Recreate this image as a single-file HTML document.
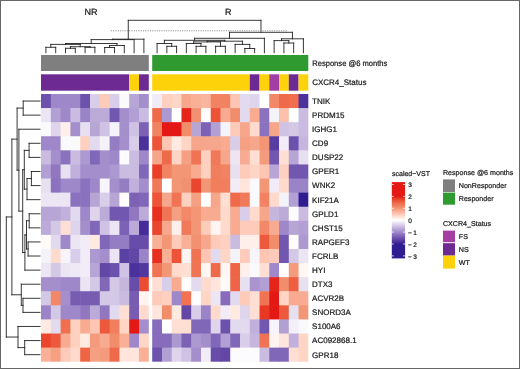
<!DOCTYPE html>
<html><head><meta charset="utf-8"><style>
html,body{margin:0;padding:0;background:#fff;}
#w{position:relative;width:520px;height:369px;overflow:hidden;background:#fff;}
#w svg{position:absolute;left:0;top:0;will-change:transform;filter:blur(0.3px);}
#bd{position:absolute;left:0;top:0;width:520px;height:369px;box-sizing:border-box;border:1px solid #666;}
text{font-family:"Liberation Sans",sans-serif;text-rendering:geometricPrecision;}
</style></head><body><div id="w">
<svg width="520" height="369" viewBox="0 0 520 369">
<defs><linearGradient id="cb" x1="0" y1="184.5" x2="0" y2="255.99999999999997" gradientUnits="userSpaceOnUse"><stop offset="0.0000" stop-color="#e41814"/><stop offset="0.0417" stop-color="#e41814"/><stop offset="0.0833" stop-color="#e41814"/><stop offset="0.1250" stop-color="#e41814"/><stop offset="0.1667" stop-color="#e41814"/><stop offset="0.2083" stop-color="#ea462d"/><stop offset="0.2500" stop-color="#ee6445"/><stop offset="0.2917" stop-color="#f17e5d"/><stop offset="0.3333" stop-color="#f29676"/><stop offset="0.3750" stop-color="#f9b097"/><stop offset="0.4167" stop-color="#fecab9"/><stop offset="0.4583" stop-color="#ffe5db"/><stop offset="0.5000" stop-color="#ffffff"/><stop offset="0.5417" stop-color="#e7e0f1"/><stop offset="0.5833" stop-color="#cfc2e4"/><stop offset="0.6250" stop-color="#b7a5d6"/><stop offset="0.6667" stop-color="#9f88c9"/><stop offset="0.7083" stop-color="#866cbb"/><stop offset="0.7500" stop-color="#6c51ad"/><stop offset="0.7917" stop-color="#51379f"/><stop offset="0.8333" stop-color="#301c91"/><stop offset="0.8750" stop-color="#301c91"/><stop offset="0.9167" stop-color="#301c91"/><stop offset="0.9583" stop-color="#301c91"/><stop offset="1.0000" stop-color="#301c91"/></linearGradient></defs><rect x="41.00" y="94.00" width="10.40" height="14.69" fill="#6c51ad"/><rect x="50.80" y="94.00" width="10.40" height="14.69" fill="#9f88c9"/><rect x="60.60" y="94.00" width="10.40" height="14.69" fill="#9f88c9"/><rect x="70.40" y="94.00" width="10.40" height="14.69" fill="#9f88c9"/><rect x="80.20" y="94.00" width="10.40" height="14.69" fill="#6c51ad"/><rect x="90.00" y="94.00" width="10.40" height="14.69" fill="#d9cee9"/><rect x="99.80" y="94.00" width="10.40" height="14.69" fill="#fecab9"/><rect x="109.60" y="94.00" width="10.40" height="14.69" fill="#d9cee9"/><rect x="119.40" y="94.00" width="10.40" height="14.69" fill="#faf9fc"/><rect x="129.20" y="94.00" width="10.40" height="14.69" fill="#b7a5d6"/><rect x="139.00" y="94.00" width="9.80" height="14.69" fill="#a48ecb"/><rect x="152.20" y="94.00" width="10.36" height="14.69" fill="#f1ecf7"/><rect x="161.96" y="94.00" width="10.36" height="14.69" fill="#fed0c0"/><rect x="171.71" y="94.00" width="10.36" height="14.69" fill="#ffd5c6"/><rect x="181.47" y="94.00" width="10.36" height="14.69" fill="#f6a68a"/><rect x="191.22" y="94.00" width="10.36" height="14.69" fill="#f9b097"/><rect x="200.98" y="94.00" width="10.36" height="14.69" fill="#fab59e"/><rect x="210.74" y="94.00" width="10.36" height="14.69" fill="#f18362"/><rect x="220.49" y="94.00" width="10.36" height="14.69" fill="#f18362"/><rect x="230.25" y="94.00" width="10.36" height="14.69" fill="#fdc5b2"/><rect x="240.01" y="94.00" width="10.36" height="14.69" fill="#e2daef"/><rect x="249.76" y="94.00" width="10.36" height="14.69" fill="#ded4ec"/><rect x="259.52" y="94.00" width="10.36" height="14.69" fill="#fffdfc"/><rect x="269.27" y="94.00" width="10.36" height="14.69" fill="#f28867"/><rect x="279.03" y="94.00" width="10.36" height="14.69" fill="#ef6a4a"/><rect x="288.79" y="94.00" width="10.36" height="14.69" fill="#ef6f4f"/><rect x="298.54" y="94.00" width="9.76" height="14.69" fill="#4b319c"/><rect x="41.00" y="108.09" width="10.40" height="14.69" fill="#ece6f4"/><rect x="50.80" y="108.09" width="10.40" height="14.69" fill="#b29fd4"/><rect x="60.60" y="108.09" width="10.40" height="14.69" fill="#9f88c9"/><rect x="70.40" y="108.09" width="10.40" height="14.69" fill="#cabce1"/><rect x="80.20" y="108.09" width="10.40" height="14.69" fill="#9a83c6"/><rect x="90.00" y="108.09" width="10.40" height="14.69" fill="#bcabd9"/><rect x="99.80" y="108.09" width="10.40" height="14.69" fill="#bcabd9"/><rect x="109.60" y="108.09" width="10.40" height="14.69" fill="#7257b0"/><rect x="119.40" y="108.09" width="10.40" height="14.69" fill="#a48ecb"/><rect x="129.20" y="108.09" width="10.40" height="14.69" fill="#b29fd4"/><rect x="139.00" y="108.09" width="9.80" height="14.69" fill="#cabce1"/><rect x="152.20" y="108.09" width="10.36" height="14.69" fill="#ef6a4a"/><rect x="161.96" y="108.09" width="10.36" height="14.69" fill="#ad99d1"/><rect x="171.71" y="108.09" width="10.36" height="14.69" fill="#ffffff"/><rect x="181.47" y="108.09" width="10.36" height="14.69" fill="#e52519"/><rect x="191.22" y="108.09" width="10.36" height="14.69" fill="#f29171"/><rect x="200.98" y="108.09" width="10.36" height="14.69" fill="#fffcfb"/><rect x="210.74" y="108.09" width="10.36" height="14.69" fill="#ec5337"/><rect x="220.49" y="108.09" width="10.36" height="14.69" fill="#f8ab90"/><rect x="230.25" y="108.09" width="10.36" height="14.69" fill="#f28d6c"/><rect x="240.01" y="108.09" width="10.36" height="14.69" fill="#e2daef"/><rect x="249.76" y="108.09" width="10.36" height="14.69" fill="#f8ab90"/><rect x="259.52" y="108.09" width="10.36" height="14.69" fill="#8b72be"/><rect x="269.27" y="108.09" width="10.36" height="14.69" fill="#f5f3fa"/><rect x="279.03" y="108.09" width="10.36" height="14.69" fill="#fcc0ab"/><rect x="288.79" y="108.09" width="10.36" height="14.69" fill="#ffffff"/><rect x="298.54" y="108.09" width="9.76" height="14.69" fill="#cabce1"/><rect x="41.00" y="122.18" width="10.40" height="14.69" fill="#faf9fc"/><rect x="50.80" y="122.18" width="10.40" height="14.69" fill="#ded4ec"/><rect x="60.60" y="122.18" width="10.40" height="14.69" fill="#ffefea"/><rect x="70.40" y="122.18" width="10.40" height="14.69" fill="#a48ecb"/><rect x="80.20" y="122.18" width="10.40" height="14.69" fill="#e7e0f1"/><rect x="90.00" y="122.18" width="10.40" height="14.69" fill="#b7a5d6"/><rect x="99.80" y="122.18" width="10.40" height="14.69" fill="#cfc2e4"/><rect x="109.60" y="122.18" width="10.40" height="14.69" fill="#f5f3fa"/><rect x="119.40" y="122.18" width="10.40" height="14.69" fill="#a48ecb"/><rect x="129.20" y="122.18" width="10.40" height="14.69" fill="#cfc2e4"/><rect x="139.00" y="122.18" width="9.80" height="14.69" fill="#7c61b5"/><rect x="152.20" y="122.18" width="10.36" height="14.69" fill="#f18362"/><rect x="161.96" y="122.18" width="10.36" height="14.69" fill="#e41814"/><rect x="171.71" y="122.18" width="10.36" height="14.69" fill="#e41814"/><rect x="181.47" y="122.18" width="10.36" height="14.69" fill="#f28d6c"/><rect x="191.22" y="122.18" width="10.36" height="14.69" fill="#b7a5d6"/><rect x="200.98" y="122.18" width="10.36" height="14.69" fill="#7c61b5"/><rect x="210.74" y="122.18" width="10.36" height="14.69" fill="#b29fd4"/><rect x="220.49" y="122.18" width="10.36" height="14.69" fill="#f5f3fa"/><rect x="230.25" y="122.18" width="10.36" height="14.69" fill="#fecab9"/><rect x="240.01" y="122.18" width="10.36" height="14.69" fill="#f6a68a"/><rect x="249.76" y="122.18" width="10.36" height="14.69" fill="#ffdacd"/><rect x="259.52" y="122.18" width="10.36" height="14.69" fill="#8b72be"/><rect x="269.27" y="122.18" width="10.36" height="14.69" fill="#f6a68a"/><rect x="279.03" y="122.18" width="10.36" height="14.69" fill="#cfc2e4"/><rect x="288.79" y="122.18" width="10.36" height="14.69" fill="#d4c8e7"/><rect x="298.54" y="122.18" width="9.76" height="14.69" fill="#cabce1"/><rect x="41.00" y="136.27" width="10.40" height="14.69" fill="#9f88c9"/><rect x="50.80" y="136.27" width="10.40" height="14.69" fill="#9f88c9"/><rect x="60.60" y="136.27" width="10.40" height="14.69" fill="#faf9fc"/><rect x="70.40" y="136.27" width="10.40" height="14.69" fill="#faf9fc"/><rect x="80.20" y="136.27" width="10.40" height="14.69" fill="#fed0c0"/><rect x="90.00" y="136.27" width="10.40" height="14.69" fill="#e2daef"/><rect x="99.80" y="136.27" width="10.40" height="14.69" fill="#f5f3fa"/><rect x="109.60" y="136.27" width="10.40" height="14.69" fill="#957dc3"/><rect x="119.40" y="136.27" width="10.40" height="14.69" fill="#a48ecb"/><rect x="129.20" y="136.27" width="10.40" height="14.69" fill="#d9cee9"/><rect x="139.00" y="136.27" width="9.80" height="14.69" fill="#4b319c"/><rect x="152.20" y="136.27" width="10.36" height="14.69" fill="#ec5337"/><rect x="161.96" y="136.27" width="10.36" height="14.69" fill="#fdc5b2"/><rect x="171.71" y="136.27" width="10.36" height="14.69" fill="#ffeae2"/><rect x="181.47" y="136.27" width="10.36" height="14.69" fill="#ffd5c6"/><rect x="191.22" y="136.27" width="10.36" height="14.69" fill="#f6a68a"/><rect x="200.98" y="136.27" width="10.36" height="14.69" fill="#f6a68a"/><rect x="210.74" y="136.27" width="10.36" height="14.69" fill="#f6a68a"/><rect x="220.49" y="136.27" width="10.36" height="14.69" fill="#f8ab90"/><rect x="230.25" y="136.27" width="10.36" height="14.69" fill="#d9cee9"/><rect x="240.01" y="136.27" width="10.36" height="14.69" fill="#f5a083"/><rect x="249.76" y="136.27" width="10.36" height="14.69" fill="#f6a68a"/><rect x="259.52" y="136.27" width="10.36" height="14.69" fill="#f29676"/><rect x="269.27" y="136.27" width="10.36" height="14.69" fill="#573ca2"/><rect x="279.03" y="136.27" width="10.36" height="14.69" fill="#f1ecf7"/><rect x="288.79" y="136.27" width="10.36" height="14.69" fill="#6c51ad"/><rect x="298.54" y="136.27" width="9.76" height="14.69" fill="#c6b6de"/><rect x="41.00" y="150.36" width="10.40" height="14.69" fill="#cabce1"/><rect x="50.80" y="150.36" width="10.40" height="14.69" fill="#a48ecb"/><rect x="60.60" y="150.36" width="10.40" height="14.69" fill="#8b72be"/><rect x="70.40" y="150.36" width="10.40" height="14.69" fill="#cabce1"/><rect x="80.20" y="150.36" width="10.40" height="14.69" fill="#ad99d1"/><rect x="90.00" y="150.36" width="10.40" height="14.69" fill="#8167b8"/><rect x="99.80" y="150.36" width="10.40" height="14.69" fill="#a48ecb"/><rect x="109.60" y="150.36" width="10.40" height="14.69" fill="#9f88c9"/><rect x="119.40" y="150.36" width="10.40" height="14.69" fill="#fcfbfd"/><rect x="129.20" y="150.36" width="10.40" height="14.69" fill="#cabce1"/><rect x="139.00" y="150.36" width="9.80" height="14.69" fill="#9f88c9"/><rect x="152.20" y="150.36" width="10.36" height="14.69" fill="#f6a68a"/><rect x="161.96" y="150.36" width="10.36" height="14.69" fill="#ef6a4a"/><rect x="171.71" y="150.36" width="10.36" height="14.69" fill="#ffd5c6"/><rect x="181.47" y="150.36" width="10.36" height="14.69" fill="#f5a083"/><rect x="191.22" y="150.36" width="10.36" height="14.69" fill="#f07454"/><rect x="200.98" y="150.36" width="10.36" height="14.69" fill="#fed0c0"/><rect x="210.74" y="150.36" width="10.36" height="14.69" fill="#f07959"/><rect x="220.49" y="150.36" width="10.36" height="14.69" fill="#f6a68a"/><rect x="230.25" y="150.36" width="10.36" height="14.69" fill="#ece6f4"/><rect x="240.01" y="150.36" width="10.36" height="14.69" fill="#f8ab90"/><rect x="249.76" y="150.36" width="10.36" height="14.69" fill="#ffdfd4"/><rect x="259.52" y="150.36" width="10.36" height="14.69" fill="#f49b7d"/><rect x="269.27" y="150.36" width="10.36" height="14.69" fill="#7257b0"/><rect x="279.03" y="150.36" width="10.36" height="14.69" fill="#ffdfd4"/><rect x="288.79" y="150.36" width="10.36" height="14.69" fill="#b7a5d6"/><rect x="298.54" y="150.36" width="9.76" height="14.69" fill="#e7e0f1"/><rect x="41.00" y="164.45" width="10.40" height="14.69" fill="#b29fd4"/><rect x="50.80" y="164.45" width="10.40" height="14.69" fill="#9077c0"/><rect x="60.60" y="164.45" width="10.40" height="14.69" fill="#e7e0f1"/><rect x="70.40" y="164.45" width="10.40" height="14.69" fill="#c1b0dc"/><rect x="80.20" y="164.45" width="10.40" height="14.69" fill="#a48ecb"/><rect x="90.00" y="164.45" width="10.40" height="14.69" fill="#a48ecb"/><rect x="99.80" y="164.45" width="10.40" height="14.69" fill="#a48ecb"/><rect x="109.60" y="164.45" width="10.40" height="14.69" fill="#ad99d1"/><rect x="119.40" y="164.45" width="10.40" height="14.69" fill="#cabce1"/><rect x="129.20" y="164.45" width="10.40" height="14.69" fill="#cabce1"/><rect x="139.00" y="164.45" width="9.80" height="14.69" fill="#8167b8"/><rect x="152.20" y="164.45" width="10.36" height="14.69" fill="#e93f28"/><rect x="161.96" y="164.45" width="10.36" height="14.69" fill="#f18362"/><rect x="171.71" y="164.45" width="10.36" height="14.69" fill="#f29676"/><rect x="181.47" y="164.45" width="10.36" height="14.69" fill="#f29676"/><rect x="191.22" y="164.45" width="10.36" height="14.69" fill="#f8ab90"/><rect x="200.98" y="164.45" width="10.36" height="14.69" fill="#fed0c0"/><rect x="210.74" y="164.45" width="10.36" height="14.69" fill="#f17e5d"/><rect x="220.49" y="164.45" width="10.36" height="14.69" fill="#f18362"/><rect x="230.25" y="164.45" width="10.36" height="14.69" fill="#e7e0f1"/><rect x="240.01" y="164.45" width="10.36" height="14.69" fill="#fecab9"/><rect x="249.76" y="164.45" width="10.36" height="14.69" fill="#ffd5c6"/><rect x="259.52" y="164.45" width="10.36" height="14.69" fill="#fdc5b2"/><rect x="269.27" y="164.45" width="10.36" height="14.69" fill="#b7a5d6"/><rect x="279.03" y="164.45" width="10.36" height="14.69" fill="#fed0c0"/><rect x="288.79" y="164.45" width="10.36" height="14.69" fill="#7257b0"/><rect x="298.54" y="164.45" width="9.76" height="14.69" fill="#7257b0"/><rect x="41.00" y="178.54" width="10.40" height="14.69" fill="#e7e0f1"/><rect x="50.80" y="178.54" width="10.40" height="14.69" fill="#8b72be"/><rect x="60.60" y="178.54" width="10.40" height="14.69" fill="#9f88c9"/><rect x="70.40" y="178.54" width="10.40" height="14.69" fill="#9f88c9"/><rect x="80.20" y="178.54" width="10.40" height="14.69" fill="#8b72be"/><rect x="90.00" y="178.54" width="10.40" height="14.69" fill="#9f88c9"/><rect x="99.80" y="178.54" width="10.40" height="14.69" fill="#f7f5fb"/><rect x="109.60" y="178.54" width="10.40" height="14.69" fill="#a48ecb"/><rect x="119.40" y="178.54" width="10.40" height="14.69" fill="#957dc3"/><rect x="129.20" y="178.54" width="10.40" height="14.69" fill="#c1b0dc"/><rect x="139.00" y="178.54" width="9.80" height="14.69" fill="#a48ecb"/><rect x="152.20" y="178.54" width="10.36" height="14.69" fill="#f07959"/><rect x="161.96" y="178.54" width="10.36" height="14.69" fill="#ffffff"/><rect x="171.71" y="178.54" width="10.36" height="14.69" fill="#f29676"/><rect x="181.47" y="178.54" width="10.36" height="14.69" fill="#f29171"/><rect x="191.22" y="178.54" width="10.36" height="14.69" fill="#ea462d"/><rect x="200.98" y="178.54" width="10.36" height="14.69" fill="#f29676"/><rect x="210.74" y="178.54" width="10.36" height="14.69" fill="#f17e5d"/><rect x="220.49" y="178.54" width="10.36" height="14.69" fill="#f17e5d"/><rect x="230.25" y="178.54" width="10.36" height="14.69" fill="#f1ecf7"/><rect x="240.01" y="178.54" width="10.36" height="14.69" fill="#ffe5db"/><rect x="249.76" y="178.54" width="10.36" height="14.69" fill="#faf9fc"/><rect x="259.52" y="178.54" width="10.36" height="14.69" fill="#f29676"/><rect x="269.27" y="178.54" width="10.36" height="14.69" fill="#f1ecf7"/><rect x="279.03" y="178.54" width="10.36" height="14.69" fill="#ffdacd"/><rect x="288.79" y="178.54" width="10.36" height="14.69" fill="#9a83c6"/><rect x="298.54" y="178.54" width="9.76" height="14.69" fill="#9a83c6"/><rect x="41.00" y="192.63" width="10.40" height="14.69" fill="#ece6f4"/><rect x="50.80" y="192.63" width="10.40" height="14.69" fill="#ece6f4"/><rect x="60.60" y="192.63" width="10.40" height="14.69" fill="#ece6f4"/><rect x="70.40" y="192.63" width="10.40" height="14.69" fill="#8b72be"/><rect x="80.20" y="192.63" width="10.40" height="14.69" fill="#8b72be"/><rect x="90.00" y="192.63" width="10.40" height="14.69" fill="#b7a5d6"/><rect x="99.80" y="192.63" width="10.40" height="14.69" fill="#d9cee9"/><rect x="109.60" y="192.63" width="10.40" height="14.69" fill="#b7a5d6"/><rect x="119.40" y="192.63" width="10.40" height="14.69" fill="#fffdfc"/><rect x="129.20" y="192.63" width="10.40" height="14.69" fill="#7c61b5"/><rect x="139.00" y="192.63" width="9.80" height="14.69" fill="#8167b8"/><rect x="152.20" y="192.63" width="10.36" height="14.69" fill="#ec5337"/><rect x="161.96" y="192.63" width="10.36" height="14.69" fill="#f6a68a"/><rect x="171.71" y="192.63" width="10.36" height="14.69" fill="#f07454"/><rect x="181.47" y="192.63" width="10.36" height="14.69" fill="#fed0c0"/><rect x="191.22" y="192.63" width="10.36" height="14.69" fill="#f5a083"/><rect x="200.98" y="192.63" width="10.36" height="14.69" fill="#ffffff"/><rect x="210.74" y="192.63" width="10.36" height="14.69" fill="#f6a68a"/><rect x="220.49" y="192.63" width="10.36" height="14.69" fill="#ffdfd4"/><rect x="230.25" y="192.63" width="10.36" height="14.69" fill="#ef6a4a"/><rect x="240.01" y="192.63" width="10.36" height="14.69" fill="#f07959"/><rect x="249.76" y="192.63" width="10.36" height="14.69" fill="#faf9fc"/><rect x="259.52" y="192.63" width="10.36" height="14.69" fill="#f18362"/><rect x="269.27" y="192.63" width="10.36" height="14.69" fill="#ffdacd"/><rect x="279.03" y="192.63" width="10.36" height="14.69" fill="#f5f3fa"/><rect x="288.79" y="192.63" width="10.36" height="14.69" fill="#b29fd4"/><rect x="298.54" y="192.63" width="9.76" height="14.69" fill="#301c91"/><rect x="41.00" y="206.72" width="10.40" height="14.69" fill="#b7a5d6"/><rect x="50.80" y="206.72" width="10.40" height="14.69" fill="#b7a5d6"/><rect x="60.60" y="206.72" width="10.40" height="14.69" fill="#c1b0dc"/><rect x="70.40" y="206.72" width="10.40" height="14.69" fill="#e2daef"/><rect x="80.20" y="206.72" width="10.40" height="14.69" fill="#9f88c9"/><rect x="90.00" y="206.72" width="10.40" height="14.69" fill="#ded4ec"/><rect x="99.80" y="206.72" width="10.40" height="14.69" fill="#bcabd9"/><rect x="109.60" y="206.72" width="10.40" height="14.69" fill="#7257b0"/><rect x="119.40" y="206.72" width="10.40" height="14.69" fill="#7257b0"/><rect x="129.20" y="206.72" width="10.40" height="14.69" fill="#9077c0"/><rect x="139.00" y="206.72" width="9.80" height="14.69" fill="#bcabd9"/><rect x="152.20" y="206.72" width="10.36" height="14.69" fill="#e62f1f"/><rect x="161.96" y="206.72" width="10.36" height="14.69" fill="#f07454"/><rect x="171.71" y="206.72" width="10.36" height="14.69" fill="#f5a083"/><rect x="181.47" y="206.72" width="10.36" height="14.69" fill="#f28867"/><rect x="191.22" y="206.72" width="10.36" height="14.69" fill="#f29676"/><rect x="200.98" y="206.72" width="10.36" height="14.69" fill="#f8ab90"/><rect x="210.74" y="206.72" width="10.36" height="14.69" fill="#f8ab90"/><rect x="220.49" y="206.72" width="10.36" height="14.69" fill="#ffdacd"/><rect x="230.25" y="206.72" width="10.36" height="14.69" fill="#f8ab90"/><rect x="240.01" y="206.72" width="10.36" height="14.69" fill="#d9cee9"/><rect x="249.76" y="206.72" width="10.36" height="14.69" fill="#ffdacd"/><rect x="259.52" y="206.72" width="10.36" height="14.69" fill="#f6a68a"/><rect x="269.27" y="206.72" width="10.36" height="14.69" fill="#c6b6de"/><rect x="279.03" y="206.72" width="10.36" height="14.69" fill="#bcabd9"/><rect x="288.79" y="206.72" width="10.36" height="14.69" fill="#fcfbfd"/><rect x="298.54" y="206.72" width="9.76" height="14.69" fill="#cabce1"/><rect x="41.00" y="220.81" width="10.40" height="14.69" fill="#bcabd9"/><rect x="50.80" y="220.81" width="10.40" height="14.69" fill="#d4c8e7"/><rect x="60.60" y="220.81" width="10.40" height="14.69" fill="#ffdfd4"/><rect x="70.40" y="220.81" width="10.40" height="14.69" fill="#ded4ec"/><rect x="80.20" y="220.81" width="10.40" height="14.69" fill="#a48ecb"/><rect x="90.00" y="220.81" width="10.40" height="14.69" fill="#8167b8"/><rect x="99.80" y="220.81" width="10.40" height="14.69" fill="#cfc2e4"/><rect x="109.60" y="220.81" width="10.40" height="14.69" fill="#ece6f4"/><rect x="119.40" y="220.81" width="10.40" height="14.69" fill="#7c61b5"/><rect x="129.20" y="220.81" width="10.40" height="14.69" fill="#bcabd9"/><rect x="139.00" y="220.81" width="9.80" height="14.69" fill="#452c99"/><rect x="152.20" y="220.81" width="10.36" height="14.69" fill="#ea462d"/><rect x="161.96" y="220.81" width="10.36" height="14.69" fill="#f6a68a"/><rect x="171.71" y="220.81" width="10.36" height="14.69" fill="#ffefea"/><rect x="181.47" y="220.81" width="10.36" height="14.69" fill="#f07959"/><rect x="191.22" y="220.81" width="10.36" height="14.69" fill="#f29676"/><rect x="200.98" y="220.81" width="10.36" height="14.69" fill="#fecab9"/><rect x="210.74" y="220.81" width="10.36" height="14.69" fill="#fff4f1"/><rect x="220.49" y="220.81" width="10.36" height="14.69" fill="#ffdacd"/><rect x="230.25" y="220.81" width="10.36" height="14.69" fill="#f8ab90"/><rect x="240.01" y="220.81" width="10.36" height="14.69" fill="#fecab9"/><rect x="249.76" y="220.81" width="10.36" height="14.69" fill="#fecab9"/><rect x="259.52" y="220.81" width="10.36" height="14.69" fill="#f28867"/><rect x="269.27" y="220.81" width="10.36" height="14.69" fill="#f8ab90"/><rect x="279.03" y="220.81" width="10.36" height="14.69" fill="#9f88c9"/><rect x="288.79" y="220.81" width="10.36" height="14.69" fill="#b7a5d6"/><rect x="298.54" y="220.81" width="9.76" height="14.69" fill="#b29fd4"/><rect x="41.00" y="234.89" width="10.40" height="14.69" fill="#fffaf8"/><rect x="50.80" y="234.89" width="10.40" height="14.69" fill="#e2daef"/><rect x="60.60" y="234.89" width="10.40" height="14.69" fill="#9f88c9"/><rect x="70.40" y="234.89" width="10.40" height="14.69" fill="#ece6f4"/><rect x="80.20" y="234.89" width="10.40" height="14.69" fill="#f1ecf7"/><rect x="90.00" y="234.89" width="10.40" height="14.69" fill="#ffeae2"/><rect x="99.80" y="234.89" width="10.40" height="14.69" fill="#8167b8"/><rect x="109.60" y="234.89" width="10.40" height="14.69" fill="#957dc3"/><rect x="119.40" y="234.89" width="10.40" height="14.69" fill="#957dc3"/><rect x="129.20" y="234.89" width="10.40" height="14.69" fill="#674caa"/><rect x="139.00" y="234.89" width="9.80" height="14.69" fill="#674caa"/><rect x="152.20" y="234.89" width="10.36" height="14.69" fill="#f9b097"/><rect x="161.96" y="234.89" width="10.36" height="14.69" fill="#f29676"/><rect x="171.71" y="234.89" width="10.36" height="14.69" fill="#fecab9"/><rect x="181.47" y="234.89" width="10.36" height="14.69" fill="#f9b097"/><rect x="191.22" y="234.89" width="10.36" height="14.69" fill="#f29171"/><rect x="200.98" y="234.89" width="10.36" height="14.69" fill="#f6a68a"/><rect x="210.74" y="234.89" width="10.36" height="14.69" fill="#fecab9"/><rect x="220.49" y="234.89" width="10.36" height="14.69" fill="#fed0c0"/><rect x="230.25" y="234.89" width="10.36" height="14.69" fill="#cabce1"/><rect x="240.01" y="234.89" width="10.36" height="14.69" fill="#ffefea"/><rect x="249.76" y="234.89" width="10.36" height="14.69" fill="#ffefea"/><rect x="259.52" y="234.89" width="10.36" height="14.69" fill="#ec593c"/><rect x="269.27" y="234.89" width="10.36" height="14.69" fill="#f28d6c"/><rect x="279.03" y="234.89" width="10.36" height="14.69" fill="#7257b0"/><rect x="288.79" y="234.89" width="10.36" height="14.69" fill="#fffcfb"/><rect x="298.54" y="234.89" width="9.76" height="14.69" fill="#ad99d1"/><rect x="41.00" y="248.98" width="10.40" height="14.69" fill="#f5f3fa"/><rect x="50.80" y="248.98" width="10.40" height="14.69" fill="#ffdacd"/><rect x="60.60" y="248.98" width="10.40" height="14.69" fill="#f7f5fb"/><rect x="70.40" y="248.98" width="10.40" height="14.69" fill="#d9cee9"/><rect x="80.20" y="248.98" width="10.40" height="14.69" fill="#f1ecf7"/><rect x="90.00" y="248.98" width="10.40" height="14.69" fill="#ad99d1"/><rect x="99.80" y="248.98" width="10.40" height="14.69" fill="#a48ecb"/><rect x="109.60" y="248.98" width="10.40" height="14.69" fill="#eae4f3"/><rect x="119.40" y="248.98" width="10.40" height="14.69" fill="#5c41a5"/><rect x="129.20" y="248.98" width="10.40" height="14.69" fill="#6247a7"/><rect x="139.00" y="248.98" width="9.80" height="14.69" fill="#9a83c6"/><rect x="152.20" y="248.98" width="10.36" height="14.69" fill="#e62f1f"/><rect x="161.96" y="248.98" width="10.36" height="14.69" fill="#f9b097"/><rect x="171.71" y="248.98" width="10.36" height="14.69" fill="#ec5337"/><rect x="181.47" y="248.98" width="10.36" height="14.69" fill="#fff4f1"/><rect x="191.22" y="248.98" width="10.36" height="14.69" fill="#f07454"/><rect x="200.98" y="248.98" width="10.36" height="14.69" fill="#fdc5b2"/><rect x="210.74" y="248.98" width="10.36" height="14.69" fill="#e2daef"/><rect x="220.49" y="248.98" width="10.36" height="14.69" fill="#ffd5c6"/><rect x="230.25" y="248.98" width="10.36" height="14.69" fill="#f5f3fa"/><rect x="240.01" y="248.98" width="10.36" height="14.69" fill="#fecab9"/><rect x="249.76" y="248.98" width="10.36" height="14.69" fill="#f7f5fb"/><rect x="259.52" y="248.98" width="10.36" height="14.69" fill="#fdc5b2"/><rect x="269.27" y="248.98" width="10.36" height="14.69" fill="#fecab9"/><rect x="279.03" y="248.98" width="10.36" height="14.69" fill="#7257b0"/><rect x="288.79" y="248.98" width="10.36" height="14.69" fill="#d4c8e7"/><rect x="298.54" y="248.98" width="9.76" height="14.69" fill="#ece6f4"/><rect x="41.00" y="263.07" width="10.40" height="14.69" fill="#ece6f4"/><rect x="50.80" y="263.07" width="10.40" height="14.69" fill="#d4c8e7"/><rect x="60.60" y="263.07" width="10.40" height="14.69" fill="#ece6f4"/><rect x="70.40" y="263.07" width="10.40" height="14.69" fill="#eee9f5"/><rect x="80.20" y="263.07" width="10.40" height="14.69" fill="#f1ecf7"/><rect x="90.00" y="263.07" width="10.40" height="14.69" fill="#b7a5d6"/><rect x="99.80" y="263.07" width="10.40" height="14.69" fill="#6247a7"/><rect x="109.60" y="263.07" width="10.40" height="14.69" fill="#6c51ad"/><rect x="119.40" y="263.07" width="10.40" height="14.69" fill="#cfc2e4"/><rect x="129.20" y="263.07" width="10.40" height="14.69" fill="#4b319c"/><rect x="139.00" y="263.07" width="9.80" height="14.69" fill="#51379f"/><rect x="152.20" y="263.07" width="10.36" height="14.69" fill="#f07454"/><rect x="161.96" y="263.07" width="10.36" height="14.69" fill="#f29676"/><rect x="171.71" y="263.07" width="10.36" height="14.69" fill="#ffdacd"/><rect x="181.47" y="263.07" width="10.36" height="14.69" fill="#ffdfd4"/><rect x="191.22" y="263.07" width="10.36" height="14.69" fill="#f07454"/><rect x="200.98" y="263.07" width="10.36" height="14.69" fill="#fff7f4"/><rect x="210.74" y="263.07" width="10.36" height="14.69" fill="#ef6a4a"/><rect x="220.49" y="263.07" width="10.36" height="14.69" fill="#fff7f4"/><rect x="230.25" y="263.07" width="10.36" height="14.69" fill="#ee6445"/><rect x="240.01" y="263.07" width="10.36" height="14.69" fill="#ffefea"/><rect x="249.76" y="263.07" width="10.36" height="14.69" fill="#faf9fc"/><rect x="259.52" y="263.07" width="10.36" height="14.69" fill="#ffdfd4"/><rect x="269.27" y="263.07" width="10.36" height="14.69" fill="#9f88c9"/><rect x="279.03" y="263.07" width="10.36" height="14.69" fill="#ffffff"/><rect x="288.79" y="263.07" width="10.36" height="14.69" fill="#f49b7d"/><rect x="298.54" y="263.07" width="9.76" height="14.69" fill="#fff7f4"/><rect x="41.00" y="277.16" width="10.40" height="14.69" fill="#a48ecb"/><rect x="50.80" y="277.16" width="10.40" height="14.69" fill="#a48ecb"/><rect x="60.60" y="277.16" width="10.40" height="14.69" fill="#9f88c9"/><rect x="70.40" y="277.16" width="10.40" height="14.69" fill="#9f88c9"/><rect x="80.20" y="277.16" width="10.40" height="14.69" fill="#eae4f3"/><rect x="90.00" y="277.16" width="10.40" height="14.69" fill="#d4c8e7"/><rect x="99.80" y="277.16" width="10.40" height="14.69" fill="#8167b8"/><rect x="109.60" y="277.16" width="10.40" height="14.69" fill="#d4c8e7"/><rect x="119.40" y="277.16" width="10.40" height="14.69" fill="#c6b6de"/><rect x="129.20" y="277.16" width="10.40" height="14.69" fill="#674caa"/><rect x="139.00" y="277.16" width="9.80" height="14.69" fill="#eb4d32"/><rect x="152.20" y="277.16" width="10.36" height="14.69" fill="#ffdfd4"/><rect x="161.96" y="277.16" width="10.36" height="14.69" fill="#d9cee9"/><rect x="171.71" y="277.16" width="10.36" height="14.69" fill="#f8ab90"/><rect x="181.47" y="277.16" width="10.36" height="14.69" fill="#fffcfb"/><rect x="191.22" y="277.16" width="10.36" height="14.69" fill="#e2daef"/><rect x="200.98" y="277.16" width="10.36" height="14.69" fill="#ffdacd"/><rect x="210.74" y="277.16" width="10.36" height="14.69" fill="#ffe5db"/><rect x="220.49" y="277.16" width="10.36" height="14.69" fill="#fffaf8"/><rect x="230.25" y="277.16" width="10.36" height="14.69" fill="#ee6445"/><rect x="240.01" y="277.16" width="10.36" height="14.69" fill="#e7e0f1"/><rect x="249.76" y="277.16" width="10.36" height="14.69" fill="#a994ce"/><rect x="259.52" y="277.16" width="10.36" height="14.69" fill="#b29fd4"/><rect x="269.27" y="277.16" width="10.36" height="14.69" fill="#e52519"/><rect x="279.03" y="277.16" width="10.36" height="14.69" fill="#f28d6c"/><rect x="288.79" y="277.16" width="10.36" height="14.69" fill="#ed5f40"/><rect x="298.54" y="277.16" width="9.76" height="14.69" fill="#e7e0f1"/><rect x="41.00" y="291.25" width="10.40" height="14.69" fill="#d4c8e7"/><rect x="50.80" y="291.25" width="10.40" height="14.69" fill="#f28867"/><rect x="60.60" y="291.25" width="10.40" height="14.69" fill="#a48ecb"/><rect x="70.40" y="291.25" width="10.40" height="14.69" fill="#775cb2"/><rect x="80.20" y="291.25" width="10.40" height="14.69" fill="#775cb2"/><rect x="90.00" y="291.25" width="10.40" height="14.69" fill="#775cb2"/><rect x="99.80" y="291.25" width="10.40" height="14.69" fill="#d4c8e7"/><rect x="109.60" y="291.25" width="10.40" height="14.69" fill="#d4c8e7"/><rect x="119.40" y="291.25" width="10.40" height="14.69" fill="#cabce1"/><rect x="129.20" y="291.25" width="10.40" height="14.69" fill="#775cb2"/><rect x="139.00" y="291.25" width="9.80" height="14.69" fill="#fff4f1"/><rect x="152.20" y="291.25" width="10.36" height="14.69" fill="#fecab9"/><rect x="161.96" y="291.25" width="10.36" height="14.69" fill="#fed0c0"/><rect x="171.71" y="291.25" width="10.36" height="14.69" fill="#9f88c9"/><rect x="181.47" y="291.25" width="10.36" height="14.69" fill="#f07454"/><rect x="191.22" y="291.25" width="10.36" height="14.69" fill="#fffcfb"/><rect x="200.98" y="291.25" width="10.36" height="14.69" fill="#ffd5c6"/><rect x="210.74" y="291.25" width="10.36" height="14.69" fill="#ece6f4"/><rect x="220.49" y="291.25" width="10.36" height="14.69" fill="#866cbb"/><rect x="230.25" y="291.25" width="10.36" height="14.69" fill="#e2daef"/><rect x="240.01" y="291.25" width="10.36" height="14.69" fill="#fecab9"/><rect x="249.76" y="291.25" width="10.36" height="14.69" fill="#ffdfd4"/><rect x="259.52" y="291.25" width="10.36" height="14.69" fill="#f07454"/><rect x="269.27" y="291.25" width="10.36" height="14.69" fill="#e41814"/><rect x="279.03" y="291.25" width="10.36" height="14.69" fill="#ffd5c6"/><rect x="288.79" y="291.25" width="10.36" height="14.69" fill="#f8ab90"/><rect x="298.54" y="291.25" width="9.76" height="14.69" fill="#f8ab90"/><rect x="41.00" y="305.34" width="10.40" height="14.69" fill="#9a83c6"/><rect x="50.80" y="305.34" width="10.40" height="14.69" fill="#d4c8e7"/><rect x="60.60" y="305.34" width="10.40" height="14.69" fill="#9f88c9"/><rect x="70.40" y="305.34" width="10.40" height="14.69" fill="#9f88c9"/><rect x="80.20" y="305.34" width="10.40" height="14.69" fill="#9077c0"/><rect x="90.00" y="305.34" width="10.40" height="14.69" fill="#bcabd9"/><rect x="99.80" y="305.34" width="10.40" height="14.69" fill="#9077c0"/><rect x="109.60" y="305.34" width="10.40" height="14.69" fill="#e2daef"/><rect x="119.40" y="305.34" width="10.40" height="14.69" fill="#ffdfd4"/><rect x="129.20" y="305.34" width="10.40" height="14.69" fill="#775cb2"/><rect x="139.00" y="305.34" width="9.80" height="14.69" fill="#ffdacd"/><rect x="152.20" y="305.34" width="10.36" height="14.69" fill="#ffe5db"/><rect x="161.96" y="305.34" width="10.36" height="14.69" fill="#f28d6c"/><rect x="171.71" y="305.34" width="10.36" height="14.69" fill="#ffeae2"/><rect x="181.47" y="305.34" width="10.36" height="14.69" fill="#6247a7"/><rect x="191.22" y="305.34" width="10.36" height="14.69" fill="#d9cee9"/><rect x="200.98" y="305.34" width="10.36" height="14.69" fill="#9a83c6"/><rect x="210.74" y="305.34" width="10.36" height="14.69" fill="#ffdacd"/><rect x="220.49" y="305.34" width="10.36" height="14.69" fill="#f1ecf7"/><rect x="230.25" y="305.34" width="10.36" height="14.69" fill="#ffeae2"/><rect x="240.01" y="305.34" width="10.36" height="14.69" fill="#ded4ec"/><rect x="249.76" y="305.34" width="10.36" height="14.69" fill="#ffdfd4"/><rect x="259.52" y="305.34" width="10.36" height="14.69" fill="#e83824"/><rect x="269.27" y="305.34" width="10.36" height="14.69" fill="#e41814"/><rect x="279.03" y="305.34" width="10.36" height="14.69" fill="#ec593c"/><rect x="288.79" y="305.34" width="10.36" height="14.69" fill="#e7e0f1"/><rect x="298.54" y="305.34" width="9.76" height="14.69" fill="#f29676"/><rect x="41.00" y="319.43" width="10.40" height="14.69" fill="#ffeae2"/><rect x="50.80" y="319.43" width="10.40" height="14.69" fill="#e2daef"/><rect x="60.60" y="319.43" width="10.40" height="14.69" fill="#ef6f4f"/><rect x="70.40" y="319.43" width="10.40" height="14.69" fill="#fed0c0"/><rect x="80.20" y="319.43" width="10.40" height="14.69" fill="#f8ab90"/><rect x="90.00" y="319.43" width="10.40" height="14.69" fill="#fdc5b2"/><rect x="99.80" y="319.43" width="10.40" height="14.69" fill="#ec593c"/><rect x="109.60" y="319.43" width="10.40" height="14.69" fill="#f17e5d"/><rect x="119.40" y="319.43" width="10.40" height="14.69" fill="#ffd5c6"/><rect x="129.20" y="319.43" width="10.40" height="14.69" fill="#e41814"/><rect x="139.00" y="319.43" width="9.80" height="14.69" fill="#a48ecb"/><rect x="152.20" y="319.43" width="10.36" height="14.69" fill="#866cbb"/><rect x="161.96" y="319.43" width="10.36" height="14.69" fill="#ffffff"/><rect x="171.71" y="319.43" width="10.36" height="14.69" fill="#ffdfd4"/><rect x="181.47" y="319.43" width="10.36" height="14.69" fill="#ffdfd4"/><rect x="191.22" y="319.43" width="10.36" height="14.69" fill="#8167b8"/><rect x="200.98" y="319.43" width="10.36" height="14.69" fill="#8167b8"/><rect x="210.74" y="319.43" width="10.36" height="14.69" fill="#ded4ec"/><rect x="220.49" y="319.43" width="10.36" height="14.69" fill="#6c51ad"/><rect x="230.25" y="319.43" width="10.36" height="14.69" fill="#e2daef"/><rect x="240.01" y="319.43" width="10.36" height="14.69" fill="#e2daef"/><rect x="249.76" y="319.43" width="10.36" height="14.69" fill="#c1b0dc"/><rect x="259.52" y="319.43" width="10.36" height="14.69" fill="#7257b0"/><rect x="269.27" y="319.43" width="10.36" height="14.69" fill="#f7f5fb"/><rect x="279.03" y="319.43" width="10.36" height="14.69" fill="#b29fd4"/><rect x="288.79" y="319.43" width="10.36" height="14.69" fill="#f4f0f9"/><rect x="298.54" y="319.43" width="9.76" height="14.69" fill="#faf9fc"/><rect x="41.00" y="333.52" width="10.40" height="14.69" fill="#ea462d"/><rect x="50.80" y="333.52" width="10.40" height="14.69" fill="#ec593c"/><rect x="60.60" y="333.52" width="10.40" height="14.69" fill="#f8ab90"/><rect x="70.40" y="333.52" width="10.40" height="14.69" fill="#fed0c0"/><rect x="80.20" y="333.52" width="10.40" height="14.69" fill="#ffeae2"/><rect x="90.00" y="333.52" width="10.40" height="14.69" fill="#f49b7d"/><rect x="99.80" y="333.52" width="10.40" height="14.69" fill="#f8ab90"/><rect x="109.60" y="333.52" width="10.40" height="14.69" fill="#f28d6c"/><rect x="119.40" y="333.52" width="10.40" height="14.69" fill="#f9b097"/><rect x="129.20" y="333.52" width="10.40" height="14.69" fill="#9f88c9"/><rect x="139.00" y="333.52" width="9.80" height="14.69" fill="#ffd5c6"/><rect x="152.20" y="333.52" width="10.36" height="14.69" fill="#866cbb"/><rect x="161.96" y="333.52" width="10.36" height="14.69" fill="#866cbb"/><rect x="171.71" y="333.52" width="10.36" height="14.69" fill="#ad99d1"/><rect x="181.47" y="333.52" width="10.36" height="14.69" fill="#7c61b5"/><rect x="191.22" y="333.52" width="10.36" height="14.69" fill="#ad99d1"/><rect x="200.98" y="333.52" width="10.36" height="14.69" fill="#a48ecb"/><rect x="210.74" y="333.52" width="10.36" height="14.69" fill="#8167b8"/><rect x="220.49" y="333.52" width="10.36" height="14.69" fill="#b29fd4"/><rect x="230.25" y="333.52" width="10.36" height="14.69" fill="#8167b8"/><rect x="240.01" y="333.52" width="10.36" height="14.69" fill="#d9cee9"/><rect x="249.76" y="333.52" width="10.36" height="14.69" fill="#c6b6de"/><rect x="259.52" y="333.52" width="10.36" height="14.69" fill="#f07454"/><rect x="269.27" y="333.52" width="10.36" height="14.69" fill="#fff4f1"/><rect x="279.03" y="333.52" width="10.36" height="14.69" fill="#ffe5db"/><rect x="288.79" y="333.52" width="10.36" height="14.69" fill="#c1b0dc"/><rect x="298.54" y="333.52" width="9.76" height="14.69" fill="#ffd5c6"/><rect x="41.00" y="347.61" width="10.40" height="14.09" fill="#f9b097"/><rect x="50.80" y="347.61" width="10.40" height="14.09" fill="#f5a083"/><rect x="60.60" y="347.61" width="10.40" height="14.09" fill="#fecab9"/><rect x="70.40" y="347.61" width="10.40" height="14.09" fill="#ffdacd"/><rect x="80.20" y="347.61" width="10.40" height="14.09" fill="#ee6445"/><rect x="90.00" y="347.61" width="10.40" height="14.09" fill="#f5a083"/><rect x="99.80" y="347.61" width="10.40" height="14.09" fill="#f49b7d"/><rect x="109.60" y="347.61" width="10.40" height="14.09" fill="#ef6a4a"/><rect x="119.40" y="347.61" width="10.40" height="14.09" fill="#ffe5db"/><rect x="129.20" y="347.61" width="10.40" height="14.09" fill="#ffe5db"/><rect x="139.00" y="347.61" width="9.80" height="14.09" fill="#f9b097"/><rect x="152.20" y="347.61" width="10.36" height="14.09" fill="#6c51ad"/><rect x="161.96" y="347.61" width="10.36" height="14.09" fill="#b29fd4"/><rect x="171.71" y="347.61" width="10.36" height="14.09" fill="#ded4ec"/><rect x="181.47" y="347.61" width="10.36" height="14.09" fill="#cfc2e4"/><rect x="191.22" y="347.61" width="10.36" height="14.09" fill="#a48ecb"/><rect x="200.98" y="347.61" width="10.36" height="14.09" fill="#f1ecf7"/><rect x="210.74" y="347.61" width="10.36" height="14.09" fill="#674caa"/><rect x="220.49" y="347.61" width="10.36" height="14.09" fill="#6247a7"/><rect x="230.25" y="347.61" width="10.36" height="14.09" fill="#fcfbfd"/><rect x="240.01" y="347.61" width="10.36" height="14.09" fill="#fcfbfd"/><rect x="249.76" y="347.61" width="10.36" height="14.09" fill="#fcfbfd"/><rect x="259.52" y="347.61" width="10.36" height="14.09" fill="#cabce1"/><rect x="269.27" y="347.61" width="10.36" height="14.09" fill="#8167b8"/><rect x="279.03" y="347.61" width="10.36" height="14.09" fill="#8167b8"/><rect x="288.79" y="347.61" width="10.36" height="14.09" fill="#ffdfd4"/><rect x="298.54" y="347.61" width="9.76" height="14.09" fill="#ffd5c6"/><rect x="41.0" y="55.0" width="107.80" height="16.00" fill="#7f7f7f"/><rect x="152.2" y="55.0" width="156.10" height="16.00" fill="#2f9a30"/><rect x="41.00" y="74.3" width="88.20" height="16.40" fill="#6c2a92"/><rect x="129.20" y="74.3" width="9.80" height="16.40" fill="#fdd20a"/><rect x="139.00" y="74.3" width="9.80" height="16.40" fill="#6c2a92"/><rect x="152.20" y="74.3" width="97.56" height="16.40" fill="#fdd20a"/><rect x="249.76" y="74.3" width="9.76" height="16.40" fill="#6c2a92"/><rect x="259.52" y="74.3" width="9.76" height="16.40" fill="#fdd20a"/><rect x="269.27" y="74.3" width="9.76" height="16.40" fill="#a33ea3"/><rect x="279.03" y="74.3" width="9.76" height="16.40" fill="#fdd20a"/><rect x="288.79" y="74.3" width="9.76" height="16.40" fill="#6c2a92"/><rect x="298.54" y="74.3" width="9.76" height="16.40" fill="#fdd20a"/><path d="M45.90 52.70L45.90 47.30M55.70 52.70L55.70 47.30M45.90 47.30L55.70 47.30M65.50 52.70L65.50 48.30M75.30 52.70L75.30 48.30M65.50 48.30L75.30 48.30M85.10 52.70L85.10 47.30M94.90 52.70L94.90 47.30M85.10 47.30L94.90 47.30M70.40 48.30L70.40 46.70M90.00 47.30L90.00 46.70M70.40 46.70L90.00 46.70M50.80 47.30L50.80 44.40M80.20 46.70L80.20 44.40M50.80 44.40L80.20 44.40M104.70 52.70L104.70 47.50M114.50 52.70L114.50 47.50M104.70 47.50L114.50 47.50M109.60 47.50L109.60 45.50M124.30 52.70L124.30 45.50M109.60 45.50L124.30 45.50M65.50 44.40L65.50 43.50M116.95 45.50L116.95 43.50M65.50 43.50L116.95 43.50M91.22 43.50L91.22 39.60M134.10 52.70L134.10 39.60M91.22 39.60L134.10 39.60M112.66 39.60L112.66 39.20M143.90 52.70L143.90 39.20M112.66 39.20L143.90 39.20M166.83 52.70L166.83 46.30M176.59 52.70L176.59 46.30M166.83 46.30L176.59 46.30M157.08 52.70L157.08 43.50M171.71 46.30L171.71 43.50M157.08 43.50L171.71 43.50M196.10 52.70L196.10 46.30M205.86 52.70L205.86 46.30M196.10 46.30L205.86 46.30M186.35 52.70L186.35 43.50M200.98 46.30L200.98 43.50M186.35 43.50L200.98 43.50M215.62 52.70L215.62 46.30M225.37 52.70L225.37 46.30M215.62 46.30L225.37 46.30M244.88 52.70L244.88 48.50M254.64 52.70L254.64 48.50M244.88 48.50L254.64 48.50M235.13 52.70L235.13 44.40M249.76 48.50L249.76 44.40M235.13 44.40L249.76 44.40M193.66 43.50L193.66 41.90M220.49 46.30L220.49 41.90M193.66 41.90L220.49 41.90M207.08 41.90L207.08 41.20M242.45 44.40L242.45 41.20M207.08 41.20L242.45 41.20M164.40 43.50L164.40 40.30M224.76 41.20L224.76 40.30M164.40 40.30L224.76 40.30M194.58 40.30L194.58 38.30M264.40 52.70L264.40 38.30M194.58 38.30L264.40 38.30M283.91 52.70L283.91 43.00M293.67 52.70L293.67 43.00M283.91 43.00L293.67 43.00M274.15 52.70L274.15 40.60M288.79 43.00L288.79 40.60M274.15 40.60L288.79 40.60M281.47 40.60L281.47 38.80M303.42 52.70L303.42 38.80M281.47 38.80L303.42 38.80M229.49 38.30L229.49 32.30M292.45 38.80L292.45 32.30M229.49 32.30L292.45 32.30M128.28 39.20L128.28 20.30M260.97 32.30L260.97 20.30M128.28 20.30L260.97 20.30M40.00 101.04L23.20 101.04M40.00 115.13L23.20 115.13M23.20 101.04L23.20 115.13M40.00 143.31L29.10 143.31M40.00 157.40L29.10 157.40M29.10 143.31L29.10 157.40M40.00 171.49L31.40 171.49M40.00 185.58L31.40 185.58M31.40 171.49L31.40 185.58M31.40 178.54L27.00 178.54M40.00 199.67L27.00 199.67M27.00 178.54L27.00 199.67M29.10 150.36L24.30 150.36M27.00 189.10L24.30 189.10M24.30 150.36L24.30 189.10M40.00 213.76L29.20 213.76M40.00 227.85L29.20 227.85M29.20 213.76L29.20 227.85M40.00 241.94L28.10 241.94M40.00 256.03L28.10 256.03M28.10 241.94L28.10 256.03M29.20 220.81L26.50 220.81M28.10 248.98L26.50 248.98M26.50 220.81L26.50 248.98M26.50 234.89L24.90 234.89M40.00 270.12L24.90 270.12M24.90 234.89L24.90 270.12M24.30 169.73L22.70 169.73M24.90 252.51L22.70 252.51M22.70 169.73L22.70 252.51M40.00 129.22L18.90 129.22M22.70 211.12L18.90 211.12M18.90 129.22L18.90 211.12M23.20 108.09L17.10 108.09M18.90 170.17L17.10 170.17M17.10 108.09L17.10 170.17M40.00 298.30L23.00 298.30M40.00 312.39L23.00 312.39M23.00 298.30L23.00 312.39M40.00 284.21L21.30 284.21M23.00 305.34L21.30 305.34M21.30 284.21L21.30 305.34M17.10 139.13L11.90 139.13M21.30 294.77L11.90 294.77M11.90 139.13L11.90 294.77M40.00 340.57L24.70 340.57M40.00 354.66L24.70 354.66M24.70 340.57L24.70 354.66M40.00 326.48L18.00 326.48M24.70 347.61L18.00 347.61M18.00 326.48L18.00 347.61M11.90 216.95L6.30 216.95M18.00 337.04L6.30 337.04M6.30 216.95L6.30 337.04" stroke="#222" stroke-width="0.9" fill="none" stroke-linecap="square"/><line x1="110.8" y1="30.8" x2="287" y2="30.8" stroke="#8c8c8c" stroke-width="1" stroke-dasharray="1.1 1.2"/><rect x="391.8" y="182.1" width="13.30" height="76.30" fill="url(#cb)"/><line x1="391.8" y1="184.50" x2="393.8" y2="184.50" stroke="#fff" stroke-width="0.8"/><line x1="403.1" y1="184.50" x2="405.1" y2="184.50" stroke="#fff" stroke-width="0.8"/><line x1="391.8" y1="196.40" x2="393.8" y2="196.40" stroke="#fff" stroke-width="0.8"/><line x1="403.1" y1="196.40" x2="405.1" y2="196.40" stroke="#fff" stroke-width="0.8"/><line x1="391.8" y1="208.30" x2="393.8" y2="208.30" stroke="#fff" stroke-width="0.8"/><line x1="403.1" y1="208.30" x2="405.1" y2="208.30" stroke="#fff" stroke-width="0.8"/><line x1="391.8" y1="220.20" x2="393.8" y2="220.20" stroke="#fff" stroke-width="0.8"/><line x1="403.1" y1="220.20" x2="405.1" y2="220.20" stroke="#fff" stroke-width="0.8"/><line x1="391.8" y1="232.10" x2="393.8" y2="232.10" stroke="#fff" stroke-width="0.8"/><line x1="403.1" y1="232.10" x2="405.1" y2="232.10" stroke="#fff" stroke-width="0.8"/><line x1="391.8" y1="244.00" x2="393.8" y2="244.00" stroke="#fff" stroke-width="0.8"/><line x1="403.1" y1="244.00" x2="405.1" y2="244.00" stroke="#fff" stroke-width="0.8"/><line x1="391.8" y1="255.90" x2="393.8" y2="255.90" stroke="#fff" stroke-width="0.8"/><line x1="403.1" y1="255.90" x2="405.1" y2="255.90" stroke="#fff" stroke-width="0.8"/><rect x="443" y="179.4" width="12" height="12.6" fill="#7f7f7f"/><rect x="443" y="192.6" width="12" height="12.1" fill="#2f9a30"/><rect x="443" y="230.6" width="12" height="11.6" fill="#a33ea3"/><rect x="443" y="243.2" width="12" height="12.4" fill="#6c2a92"/><rect x="443" y="255.6" width="12" height="13.0" fill="#fdd20a"/>
<g fill="#1a1a1a" stroke="#1a1a1a" stroke-width="0.22" stroke-linejoin="round"><text x="91.05" y="14.6" font-size="9" text-anchor="middle">NR</text><text x="228.2" y="14.7" font-size="9" text-anchor="middle">R</text><text x="312.2" y="65.6" font-size="8" text-anchor="start" textLength="75.2" lengthAdjust="spacingAndGlyphs">Response @6 months</text><text x="312.2" y="85.1" font-size="8" text-anchor="start">CXCR4_Status</text><text x="312.1" y="103.9" font-size="8" text-anchor="start">TNIK</text><text x="312.1" y="117.98947368421054" font-size="8" text-anchor="start">PRDM15</text><text x="312.1" y="132.07894736842107" font-size="8" text-anchor="start">IGHG1</text><text x="312.1" y="146.16842105263157" font-size="8" text-anchor="start">CD9</text><text x="312.1" y="160.2578947368421" font-size="8" text-anchor="start">DUSP22</text><text x="312.1" y="174.34736842105264" font-size="8" text-anchor="start">GPER1</text><text x="312.1" y="188.43684210526317" font-size="8" text-anchor="start">WNK2</text><text x="312.1" y="202.5263157894737" font-size="8" text-anchor="start">KIF21A</text><text x="312.1" y="216.61578947368423" font-size="8" text-anchor="start">GPLD1</text><text x="312.1" y="230.70526315789476" font-size="8" text-anchor="start">CHST15</text><text x="312.1" y="244.79473684210527" font-size="8" text-anchor="start">RAPGEF3</text><text x="312.1" y="258.88421052631577" font-size="8" text-anchor="start">FCRLB</text><text x="312.1" y="272.97368421052636" font-size="8" text-anchor="start">HYI</text><text x="312.1" y="287.06315789473683" font-size="8" text-anchor="start">DTX3</text><text x="312.1" y="301.15263157894736" font-size="8" text-anchor="start">ACVR2B</text><text x="312.1" y="315.2421052631579" font-size="8" text-anchor="start">SNORD3A</text><text x="312.1" y="329.3315789473684" font-size="8" text-anchor="start">S100A6</text><text x="312.1" y="343.42105263157896" font-size="8" text-anchor="start">AC092868.1</text><text x="312.1" y="357.5105263157895" font-size="8" text-anchor="start">GPR18</text><text x="392" y="175.6" font-size="7" text-anchor="start">scaled−VST</text><text x="408.2" y="187.4" font-size="6.5" text-anchor="start">3</text><text x="408.2" y="199.3" font-size="6.5" text-anchor="start">2</text><text x="408.2" y="211.20000000000002" font-size="6.5" text-anchor="start">1</text><text x="408.2" y="223.1" font-size="6.5" text-anchor="start">0</text><text x="408.0" y="235.0" font-size="6.5" text-anchor="start">−</text><text x="413.2" y="235.0" font-size="6.5" text-anchor="start">1</text><text x="408.0" y="246.9" font-size="6.5" text-anchor="start">−</text><text x="413.2" y="246.9" font-size="6.5" text-anchor="start">2</text><text x="408.0" y="258.8" font-size="6.5" text-anchor="start">−</text><text x="413.2" y="258.8" font-size="6.5" text-anchor="start">3</text><text x="443" y="174.8" font-size="7.1" text-anchor="start">Response @6 months</text><text x="458.8" y="188.3" font-size="7.1" text-anchor="start">NonResponder</text><text x="458.8" y="201.0" font-size="7.1" text-anchor="start">Responder</text><text x="443" y="225.8" font-size="7.1" text-anchor="start">CXCR4_Status</text><text x="458.8" y="238.7" font-size="7.1" text-anchor="start">FS</text><text x="458.8" y="251.7" font-size="7.1" text-anchor="start">NS</text><text x="458.8" y="264.8" font-size="7.1" text-anchor="start">WT</text></g>
</svg>
<div id="bd"></div>
</div></body></html>
